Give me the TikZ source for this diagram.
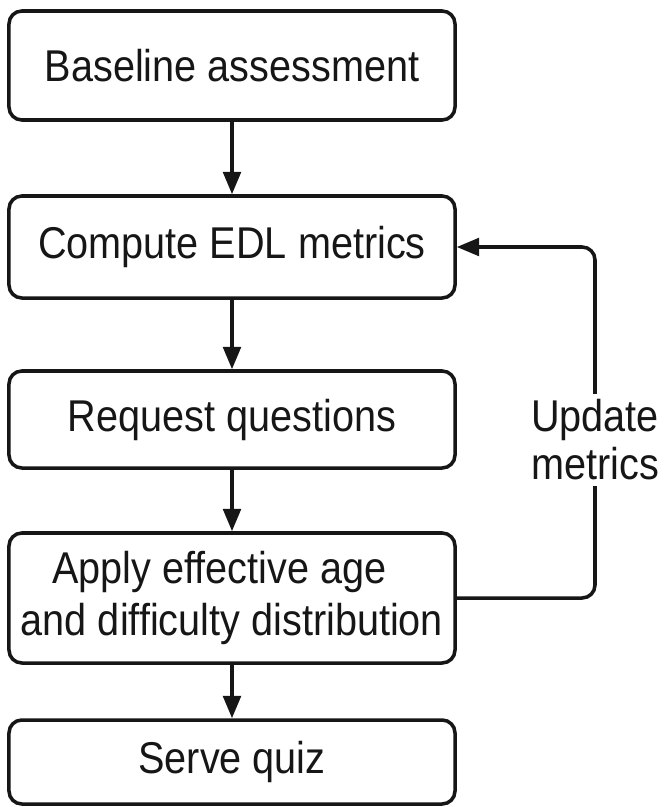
\documentclass[tikz,border=0pt]{standalone}
\usepackage{fontspec}
\setmainfont{Liberation Sans}[FakeStretch=0.89]
\usepackage{tikz}
\usetikzlibrary{arrows.meta, positioning}
\definecolor{inkblack}{RGB}{22, 22, 22}

\tikzset{
    flowbox/.style={
        draw=inkblack,
        line width=3pt,
        rounded corners=11pt,
        minimum width=13.38cm,
        align=center,
        inner sep=0pt,
        text=inkblack,
        font=\fontsize{38pt}{45pt}\selectfont
    },
    flowarrow/.style={
        -{Triangle[length=19pt, width=15pt]},
        line width=3pt,
        draw=inkblack
    }
}

\begin{document}
\begin{tikzpicture}[x=0.03cm, y=-0.03cm]
            \useasboundingbox (0, 0) rectangle (664, 807);

            % Process steps
            \node[flowbox, minimum height=3.27cm] (baseline) at (232, 65.5) {Baseline assessment};
            \node[flowbox, minimum height=3.06cm] (compute) at (232, 247) {Compute EDL metrics};
            \node[flowbox, minimum height=2.91cm] (request) at (232, 419.5) {Request questions};
            \node[flowbox, minimum height=3.9cm] (apply) at (232, 598)
                {Apply effective age\hspace*{0.75cm}\\and difficulty distribution};
            \node[flowbox, minimum height=2.52cm] (serve) at (232, 762) {Serve quiz};

            % Main flow
            \draw[flowarrow] (baseline) -- (compute);
            \draw[flowarrow] (compute) -- (request);
            \draw[flowarrow] (request) -- (apply);
            \draw[flowarrow] (apply) -- (serve);

            % Feedback loop
            \coordinate (loop) at (595, 247);
            \draw[flowarrow, rounded corners=11pt] (apply.east) -| (loop) -- (compute.east);
            \node[
                fill=white,
                text=inkblack,
                align=center,
                inner sep=5pt,
                font=\fontsize{38pt}{41pt}\selectfont
            ] (update) at (595, 440) {Update\\metrics};
\end{tikzpicture}
\end{document}
